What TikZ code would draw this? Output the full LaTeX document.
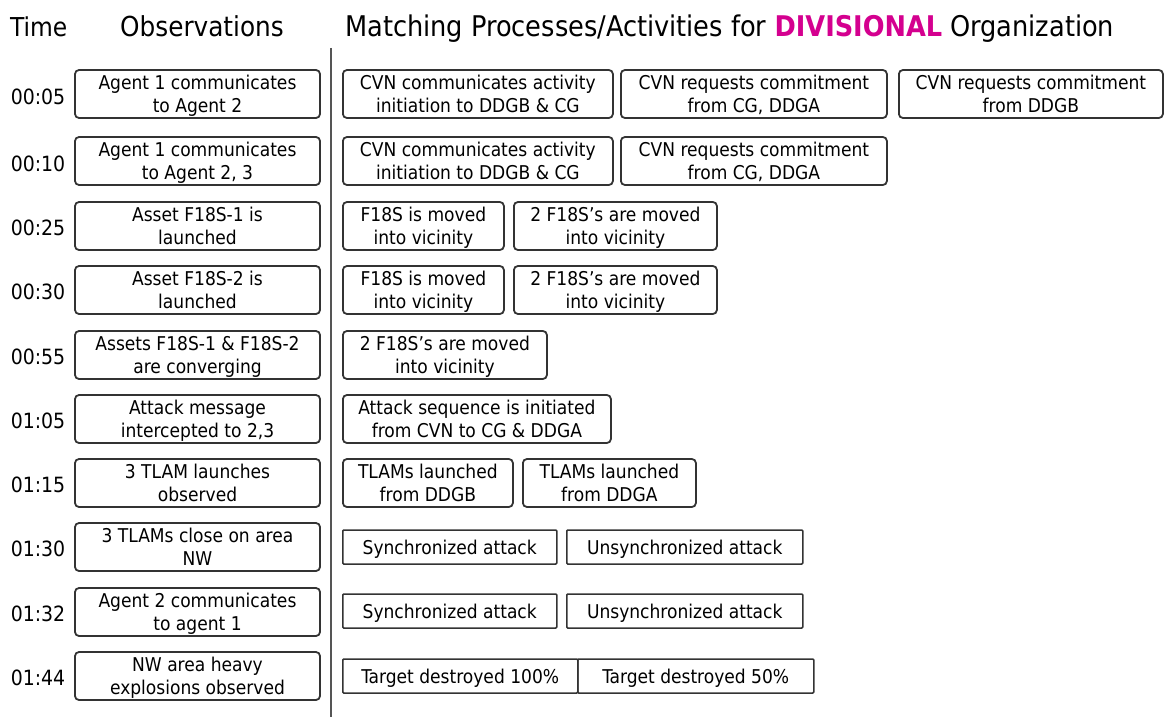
\documentclass[tikz,border=0pt]{standalone}
\usepackage{fontspec}
\setmainfont{DejaVu Sans Condensed}
\usepackage{xcolor}
\usepackage{tikz}
\definecolor{frame}{HTML}{333333}
\definecolor{rule}{HTML}{555555}
\definecolor{divi}{HTML}{D4008F}
\tikzset{
  head/.style={font=\fontsize{27.5}{30}\selectfont, anchor=base west, inner sep=0pt},
  tlab/.style={font=\fontsize{21}{24}\selectfont, inner sep=0pt},
  obs/.style={draw=frame, line width=1.8pt, rounded corners=4pt, minimum width=245pt,
    minimum height=48pt, align=center, inner sep=0pt, text depth=-6pt,
    font=\fontsize{19}{22.5}\selectfont},
  act/.style={draw=frame, line width=1.8pt, rounded corners=4pt, minimum height=48pt,
    align=center, inner sep=0pt, text depth=-6pt, anchor=west,
    font=\fontsize{19}{22.5}\selectfont},
  flat/.style={act, rounded corners=1pt, line width=1.5pt, minimum height=34pt, text depth=-2pt},
}

\begin{document}
\begin{tikzpicture}[x=1pt, y=-1pt]
  \useasboundingbox (0,0) rectangle (1165,717);

  % headings
  \node[head, font=\fontsize{26}{30}\selectfont] (hTime) at (10,37) {Time};
  \node[head] (hObs) at (120,37) {Observations};
  \node[head, font=\fontsize{28.5}{30}\selectfont] (hAct) at (345,37)
    {Matching Processes/Activities for \textbf{\color{divi}DIVISIONAL} Organization};

  % divider
  \coordinate (divtop) at (331,48);
  \coordinate (divbot) at (331,717);
  \draw[rule, line width=2.6pt] (divtop) -- (divbot);

  % time stamps
  \node[tlab] (t1) at (38,97) {00:05};
  \node[tlab] (t2) at (38,164) {00:10};
  \node[tlab] (t3) at (38,228) {00:25};
  \node[tlab] (t4) at (38,292) {00:30};
  \node[tlab] (t5) at (38,357) {00:55};
  \node[tlab] (t6) at (38,421) {01:05};
  \node[tlab] (t7) at (38,485) {01:15};
  \node[tlab] (t8) at (38,549) {01:30};
  \node[tlab] (t9) at (38,614) {01:32};
  \node[tlab] (t10) at (38,678) {01:44};

  % observations
  \node[obs] (o1) at (197.5,94) {Agent 1 communicates\\to Agent 2};
  \node[obs] (o2) at (197.5,161) {Agent 1 communicates\\to Agent 2, 3};
  \node[obs] (o3) at (197.5,226) {Asset F18S-1 is\\launched};
  \node[obs] (o4) at (197.5,290) {Asset F18S-2 is\\launched};
  \node[obs] (o5) at (197.5,355) {Assets F18S-1 \& F18S-2\\are converging};
  \node[obs] (o6) at (197.5,419) {Attack message\\intercepted to 2,3};
  \node[obs] (o7) at (197.5,483) {3 TLAM launches\\observed};
  \node[obs] (o8) at (197.5,547) {3 TLAMs close on area\\NW};
  \node[obs] (o9) at (197.5,612) {Agent 2 communicates\\to agent 1};
  \node[obs] (o10) at (197.5,676) {NW area heavy\\explosions observed};

  % matching activities
  \node[act, minimum width=270pt] (a1a) at (342,94) {CVN communicates activity\\initiation to DDGB \& CG};
  \node[act, minimum width=266pt] (a1b) at (620,94) {CVN requests commitment\\from CG, DDGA};
  \node[act, minimum width=264pt] (a1c) at (898,94) {CVN requests commitment\\from DDGB};

  \node[act, minimum width=270pt] (a2a) at (342,161) {CVN communicates activity\\initiation to DDGB \& CG};
  \node[act, minimum width=266pt] (a2b) at (620,161) {CVN requests commitment\\from CG, DDGA};

  \node[act, minimum width=161pt] (a3a) at (342,226) {F18S is moved\\into vicinity};
  \node[act, minimum width=203pt] (a3b) at (513,226) {2 F18S’s are moved\\into vicinity};

  \node[act, minimum width=161pt] (a4a) at (342,290) {F18S is moved\\into vicinity};
  \node[act, minimum width=203pt] (a4b) at (513,290) {2 F18S’s are moved\\into vicinity};

  \node[act, minimum width=204pt] (a5a) at (342,355) {2 F18S’s are moved\\into vicinity};

  \node[act, minimum width=268pt] (a6a) at (342,419) {Attack sequence is initiated\\from CVN to CG \& DDGA};

  \node[act, minimum width=170pt] (a7a) at (342,483) {TLAMs launched\\from DDGB};
  \node[act, minimum width=173pt] (a7b) at (522,483) {TLAMs launched\\from DDGA};

  \node[flat, minimum width=214pt] (a8a) at (342,547) {Synchronized attack};
  \node[flat, minimum width=236pt] (a8b) at (566,547) {Unsynchronized attack};

  \node[flat, minimum width=214pt] (a9a) at (342,611) {Synchronized attack};
  \node[flat, minimum width=236pt] (a9b) at (566,611) {Unsynchronized attack};

  \node[flat, minimum width=235pt] (a10a) at (342,676) {Target destroyed 100\%};
  \node[flat, minimum width=236pt] (a10b) at (577,676) {Target destroyed 50\%};
\end{tikzpicture}
\end{document}
